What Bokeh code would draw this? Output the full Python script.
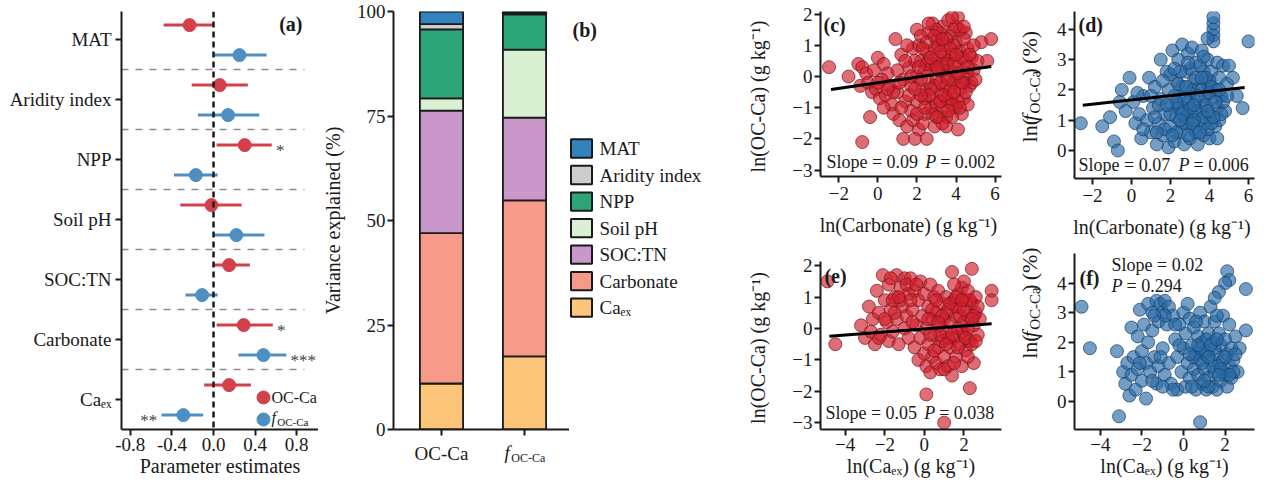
import math
from bokeh.plotting import figure
from bokeh.models import Range1d, Label, FixedTicker, ColumnDataSource, Span, PrintfTickFormatter
from bokeh.layouts import row, column
from bokeh.embed import file_html
from bokeh.resources import INLINE

FONT = "Liberation Serif"
INK = "#1a1a1a"
OFF = 4  # reference pixel -> layout pixel shift

# ---------------- panel (a): parameter estimates ----------------
predictors = ["MAT", "Aridity index", "NPP", "Soil pH", "SOC:TN", "Carbonate", "Caₑₓ"]
oc_est = [-0.23, 0.06, 0.30, -0.02, 0.15, 0.29, 0.15]
oc_lo = [-0.48, -0.21, 0.03, -0.32, 0.00, 0.03, -0.09]
oc_hi = [0.00, 0.33, 0.56, 0.27, 0.35, 0.57, 0.36]
oc_sig = ["", "", "*", "", "", "*", ""]
f_est = [0.25, 0.14, -0.17, 0.22, -0.11, 0.48, -0.29]
f_lo = [0.00, -0.15, -0.38, 0.00, -0.27, 0.24, -0.50]
f_hi = [0.51, 0.44, 0.04, 0.49, 0.04, 0.70, -0.10]
f_sig = ["", "", "", "", "", "***", "**"]
a_xticks = [-0.8, -0.4, 0.0, 0.4, 0.8]

# ---------------- panel (b): variance explained ----------------
responses = ["OC-Ca", "fOC-Ca"]
components = ["Caₑₓ", "Carbonate", "SOC:TN", "Soil pH", "NPP", "Aridity index", "MAT"]
comp_colors = ["#fdc57a", "#f89a8a", "#c997c9", "#d9f0d3", "#2ca678", "#cccccc", "#3182bd"]
var_oc = [11.0, 36.0, 29.3, 2.9, 16.5, 1.3, 3.0]
var_f = [17.5, 37.3, 19.8, 16.3, 8.4, 0.3, 0.4]
b_yticks = [0, 25, 50, 75, 100]

# ---------------- panel (c): ln(OC-Ca) vs ln(Carbonate) ----------------
c_x = [-2.5,-1.5,-1.0,-0.8,-0.6,-0.9,-0.5,-0.3,-0.4,-0.8, 0.0,0.3,0.5,0.2,-0.1,0.1,0.4,0.6,0.7,0.3,
       0.8,1.0,1.0,0.9,1.2,1.3,1.4,1.1,1.5,1.3, 1.7,1.6,1.8,1.7,2.0,2.1,2.2,2.0,2.3,2.0,
       2.4,2.1,2.5,1.9,2.6,2.5,2.7,2.6,2.8,2.7, 2.9,3.0,3.1,3.0,3.2,3.0,3.3,3.4,3.3,3.5,
       3.4,3.6,3.5,3.5,3.7,3.8,3.7,3.9,3.8,4.0, 4.1,4.1,4.0,4.2,4.1,4.3,4.2,4.4,4.3,4.5,
       4.6,4.5,4.6,4.7,4.6,4.8,4.9,5.1,5.3,5.8, 5.6,2.2,2.4,2.9,3.2,3.6,3.9,4.4,1.5,1.9,
       2.8,3.1,2.3,1.8,1.2,0.8,1.4,3.3,3.8,4.0, 3.4,2.6,2.9,4.8,4.4,3.9,3.6,3.0,2.5,4.2,
       3.3,2.2,1.7,1.1,0.5,0.0,-0.2,4.9,5.0,3.7, 3.2,2.7,4.1,3.5,2.4,2.0,1.6,
       2.3,2.8,3.1,3.5,3.9,4.3,2.6,3.2,3.8,4.2, 2.9,3.5,4.0,3.1,3.7,4.6,2.2,2.8,3.3,4.5,
       3.6,4.0,2.5,3.0,3.4,4.4,3.8,3.2,2.1,1.9, 2.6,4.3,3.9,3.3,2.4,4.7,4.1,2.7,3.6,3.0]
c_y = [0.3,0.0,0.4,0.3,0.1,-0.3,-0.2,-0.5,-1.3,-2.1, 0.6,0.4,0.1,-0.1,-0.4,-0.7,-0.6,-0.3,-0.9,-1.0,
       -1.2,-0.5,0.2,1.2,0.7,-0.1,-0.8,-1.4,-1.6,-2.0, -1.1,0.3,0.9,-0.3,1.5,1.0,0.5,0.0,-0.4,-0.8,
       -1.2,-1.7,-2.0,-2.0,1.4,0.8,0.2,-0.2,-0.7,-1.0, -1.6,1.2,0.6,-0.1,-0.5,-0.9,1.6,1.0,0.4,0.0,
       -0.3,-0.8,-1.3,-1.6,1.3,0.7,0.2,-0.2,-0.6,-1.0, -1.7,1.9,1.1,0.8,0.4,0.0,-0.4,-0.7,-1.2,1.4,
       0.9,0.5,0.1,-0.3,-0.9,0.6,0.2,0.5,1.1,1.2, 0.5,1.3,0.2,0.9,1.4,0.5,1.0,1.2,1.0,0.5,
       1.7,-1.3,-1.5,-1.4,-1.0,-0.5,0.5,-1.0,-1.3,0.0, 0.7,0.5,-0.3,-0.2,-0.2,1.5,1.8,1.5,1.1,1.5,
       0.2,-0.1,0.0,-0.2,-0.4,-0.2,0.2,1.0,-0.1,-0.4, -0.2,-0.4,-0.8,-0.7,-0.7,-1.2,-0.6,
       0.9,0.4,0.2,0.4,0.4,0.6,-0.6,-0.8,-0.9,-1.0, 1.3,1.2,1.6,1.0,0.9,0.3,-0.6,-1.2,-1.5,-0.5,
       -0.1,0.7,0.4,0.3,-0.6,1.6,1.9,0.8,0.3,-0.4, 1.7,-0.2,-0.5,1.2,-1.0,0.7,0.1,0.6,-1.1,-1.3]
c_fit_x = [-2.4, 5.8]
c_fit_y = [-0.42, 0.32]

# ---------------- panel (d): ln(fOC-Ca) vs ln(Carbonate) ----------------
d_x = [-2.6,-1.5,-1.1,-0.9,-0.7,-0.6,-0.5,-0.3,-0.1,0.1, 0.2,0.4,0.5,0.6,0.8,0.9,1.0,1.1,1.2,1.3,
       1.4,1.5,1.5,1.6,1.7,1.8,1.9,1.9,2.0,2.1, 2.1,2.2,2.3,2.3,2.4,2.5,2.5,2.6,2.7,2.7,
       2.8,2.8,2.9,3.0,3.0,3.1,3.1,3.2,3.2,3.3, 3.3,3.4,3.5,3.5,3.6,3.6,3.7,3.7,3.8,3.8,
       3.9,3.9,4.0,4.0,4.1,4.1,4.2,4.2,4.2,4.2, 4.2,4.3,4.3,4.4,4.4,4.5,4.5,4.6,4.7,4.8,
       4.9,5.0,5.2,5.4,5.7,6.0,3.9,2.0,1.4,2.4, 2.9,3.4,3.1,2.6,3.6,4.0,2.2,1.7,2.6,3.3,
       3.9,4.4,2.0,1.2,0.6,3.0,3.5,4.7,4.1,2.8, 3.7,2.3,1.0,0.3,1.6,3.2,2.5,4.6,4.9,3.8,
       2.9,2.4,
       2.7,3.0,3.4,3.8,4.2,2.3,2.6,3.1,3.5,4.0, 3.3,2.8,3.6,4.3,2.1,1.8,3.9,3.2,2.5,4.1,
       3.7,2.9,1.3,2.2,4.5]
d_y = [0.9,0.8,1.1,0.3,0.0,1.6,2.0,1.3,2.4,1.6, 0.9,1.2,0.4,1.8,1.0,2.4,0.6,1.4,2.1,0.2,
       0.9,3.0,1.7,0.5,1.2,2.6,0.1,2.0,0.8,1.5, 3.3,0.3,2.3,1.1,3.0,0.6,1.8,3.5,0.2,1.4,
       2.6,0.9,3.2,1.9,0.4,1.2,3.4,2.3,0.7,1.6, 2.9,0.2,1.0,2.1,3.3,1.4,0.5,2.6,1.8,0.9,
       2.2,3.0,1.2,0.4,1.7,2.6,3.8,4.0,4.2,4.4, 3.6,2.0,0.8,1.4,2.9,2.4,1.0,1.8,2.8,1.3,
       2.2,2.8,2.4,1.8,1.4,3.6,3.7,2.5,1.5,1.4, 1.6,1.3,2.0,2.1,2.0,2.3,1.8,0.7,0.9,0.6,
       0.7,0.4,1.2,1.1,0.7,2.7,2.8,1.6,0.9,1.1, 1.1,0.6,1.8,1.9,2.3,1.0,2.6,1.2,1.8,2.4,
       0.5,2.2,
       1.7,1.4,1.8,1.5,1.1,1.6,1.2,0.9,0.6,1.9, 2.4,2.1,2.4,1.6,0.5,1.5,1.3,1.5,1.0,2.1,
       3.1,2.9,0.6,2.7,2.0]
d_fit_x = [-2.5, 5.8]
d_fit_y = [1.49, 2.08]

# ---------------- panel (e): ln(OC-Ca) vs ln(Ca_ex) ----------------
e_x = [-4.9,-4.5,-3.2,-3.0,-2.8,-2.7,-2.6,-2.5,-2.4,-2.3, -2.2,-2.1,-2.0,-1.9,-1.8,-1.8,-1.7,-1.6,-1.5,-1.4,
       -1.4,-1.3,-1.2,-1.1,-1.0,-1.0,-0.9,-0.8,-0.8,-0.7, -0.6,-0.5,-0.5,-0.4,-0.3,-0.3,-0.2,-0.2,-0.1,0.0,
       0.0,0.1,0.1,0.2,0.2,0.3,0.3,0.4,0.4,0.5, 0.5,0.6,0.6,0.7,0.7,0.8,0.8,0.9,0.9,1.0,
       1.0,1.1,1.1,1.2,1.2,1.3,1.3,1.4,1.4,1.5, 1.5,1.6,1.6,1.7,1.7,1.8,1.8,1.9,1.9,2.0,
       2.0,2.1,2.1,2.2,2.2,2.3,2.3,2.4,2.4,2.5, 2.5,2.6,2.7,2.8,3.4,3.4,0.1,1.0,2.0,1.5,
       2.6,0.4,-0.6,-1.6,-2.3,1.2,1.9,0.6,0.2,-0.9, -1.7,1.8,2.2,2.4,1.6,1.1,0.8,2.7,
       -1.2,-0.4,-1.5,-2.0,0.9,1.3,1.6,2.0,2.3,2.5, 1.4,1.7,2.1,0.7,1.1,0.3,1.9,2.6,1.0,0.5,
       2.2,1.5,-0.7,-1.3,2.4]
e_y = [1.5,-0.5,0.1,-0.3,0.7,-0.1,0.3,-0.5,1.2,0.5, -0.2,1.7,0.9,0.2,-0.4,1.4,0.6,-0.1,1.0,1.7,
       0.3,-0.5,1.3,0.7,1.6,0.0,0.4,1.1,-0.3,1.6, 0.6,-0.6,1.2,0.1,-1.0,0.9,-0.3,1.5,0.4,-0.8,
       1.1,-1.2,0.0,0.7,-0.5,1.4,-1.4,0.3,-0.9,1.0, -0.2,-1.1,0.5,-0.6,1.2,0.1,-1.3,0.8,-0.4,-0.9,
       0.3,1.0,-0.1,-1.2,0.6,-0.6,0.2,1.8,-1.5,0.9, -0.3,0.4,-0.9,1.1,0.0,-0.5,0.7,1.3,-1.2,0.2,
       -0.2,0.9,-0.7,1.2,0.4,-0.4,-1.9,1.9,0.8,0.1, -1.1,0.5,-0.2,0.3,1.2,0.9,-2.1,-3.0,1.5,1.4,
       1.0,0.6,0.2,0.9,-0.3,-0.3,-0.1,0.9,0.3,1.4, 1.6,0.4,0.0,-0.5,0.7,0.5,-0.2,0.7,
       0.9,1.4,0.5,0.3,0.4,0.8,1.0,0.6,0.9,0.4, -0.2,-0.6,-0.3,0.2,-0.5,-0.2,0.9,-0.4,-1.3,-0.7,
       -0.9,-1.1,0.9,1.0,0.3]
e_fit_x = [-4.8, 3.4]
e_fit_y = [-0.25, 0.15]

# ---------------- panel (f): ln(fOC-Ca) vs ln(Ca_ex) ----------------
f_x = [-4.9,-4.5,-3.2,-3.1,-2.9,-2.8,-2.7,-2.6,-2.5,-2.5, -2.4,-2.3,-2.2,-2.2,-2.1,-2.0,-2.0,-1.9,-1.8,-1.8,
       -1.7,-1.7,-1.6,-1.5,-1.5,-1.4,-1.3,-1.3,-1.2,-1.2, -1.1,-1.0,-1.0,-0.9,-0.9,-0.8,-0.7,-0.7,-0.6,-0.5,
       -0.4,-0.3,-0.3,-0.2,-0.1,0.0,0.0,0.1,0.1,0.2, 0.3,0.3,0.4,0.5,0.5,0.6,0.6,0.7,0.7,0.8,
       0.8,0.9,0.9,1.0,1.0,1.1,1.1,1.2,1.2,1.3, 1.3,1.4,1.4,1.5,1.5,1.6,1.6,1.7,1.7,1.8,
       1.8,1.9,1.9,2.0,2.0,2.1,2.1,2.2,2.2,2.3, 2.3,2.4,2.5,2.6,2.7,3.0,3.0,2.1,2.2,2.0,
       1.7,1.5,0.8,-0.5,0.4,1.2,-1.0,-0.2,0.6,1.6, 0.2,-0.4,1.0,1.4,1.9,0.8,2.4,
       0.5,1.1,1.5,1.8,2.2,0.9,1.3,1.7,2.0,0.3, 0.7,1.2,1.6,-1.5,-2.1,-1.1,-0.9,-1.4,2.5,1.0]
f_y = [3.2,1.8,1.7,-0.5,1.0,0.6,1.3,0.2,2.5,0.9, 1.5,0.4,2.2,1.1,3.1,1.7,0.7,2.6,1.3,0.1,
       3.3,2.0,1.0,3.0,2.4,1.5,3.4,0.6,2.7,1.2, 3.3,3.0,1.8,0.9,3.4,2.6,1.3,3.2,0.6,2.9,
       2.1,0.4,1.5,2.6,1.0,3.0,1.8,0.5,2.3,1.3, 2.8,0.8,1.9,1.1,2.5,0.4,1.6,2.2,0.9,3.0,
       1.4,0.6,2.0,1.1,2.7,0.4,1.7,2.3,0.8,1.4, 3.2,0.5,2.0,1.0,2.7,1.6,0.4,2.3,1.2,0.7,
       1.9,2.9,1.4,0.9,2.1,1.6,0.5,1.2,2.6,1.8, 0.8,1.4,2.2,1.0,1.8,3.8,2.4,4.4,4.1,4.0,
       3.7,3.5,-0.7,0.4,0.5,0.5,0.5,1.9,2.7,2.9, 3.3,2.6,1.6,1.2,1.0,1.8,1.0,
       1.5,2.1,1.8,1.1,0.9,1.3,1.9,0.9,1.5,1.6, 1.9,1.5,2.1,0.7,1.3,1.5,2.9,2.9,1.6,0.7]

# ---------------- helpers ----------------
GEOM = {}


def mkfig(ox, oy, w, h, left, right, top, bottom, xr, yr, axes=True):
    kw = {}
    if not axes:
        kw = dict(x_axis_type=None, y_axis_type=None)
    p = figure(width=w, height=h, x_range=Range1d(*xr), y_range=Range1d(*yr),
               output_backend="svg", toolbar_location=None,
               min_border_left=left, min_border_right=right,
               min_border_top=top, min_border_bottom=bottom, **kw)
    p.xgrid.visible = False
    p.ygrid.visible = False
    p.outline_line_color = None
    p.background_fill_color = "white"
    p.border_fill_color = "white"
    for ax in p.axis:
        ax.axis_line_color = INK
        ax.axis_line_width = 2
        ax.major_tick_line_color = INK
        ax.major_tick_line_width = 2
        ax.major_tick_out = 6
        ax.major_tick_in = 0
        ax.minor_tick_line_color = None
        ax.major_label_text_font = FONT
        ax.major_label_text_font_size = "19px"
        ax.major_label_text_color = INK
        ax.major_label_standoff = 2
        ax.axis_label_text_font = FONT
        ax.axis_label_text_font_size = "20px"
        ax.axis_label_text_font_style = "normal"
        ax.axis_label_text_color = INK
        ax.axis_label_standoff = 1
    GEOM[id(p)] = dict(fl=ox + left, ft=oy + top, fw=w - left - right, fh=h - top - bottom,
                       x0=xr[0], x1=xr[1], y0=yr[0], y1=yr[1])
    return p


def to_data(p, rx, ry):
    # reference-picture pixel -> data coordinates of figure p
    g = GEOM[id(p)]
    lx, ly = rx - OFF, ry - OFF
    xd = g["x0"] + (lx - g["fl"]) / g["fw"] * (g["x1"] - g["x0"])
    yd = g["y1"] - (ly - g["ft"]) / g["fh"] * (g["y1"] - g["y0"])
    return xd, yd


def text(p, rx, ry, s, size=19, style="normal", align="left", baseline="middle",
         angle=0.0, color=INK):
    xd, yd = to_data(p, rx, ry)
    p.add_layout(Label(x=xd, y=yd, text=s, text_font=FONT, text_font_size=f"{size}px",
                       text_font_style=style, text_align=align, text_baseline=baseline,
                       angle=angle, text_color=color))


def f_sub(p, rx, ry, size, subsize):
    text(p, rx, ry, "f", size=size, style="italic")
    text(p, rx + 0.36 * size, ry + 0.3 * size, "OC-Ca", size=subsize)


def f_ylabel(p, rx, ry_bottom):
    big, small = 22, 15
    y = ry_bottom
    parts = [("ln(", big, "normal", 0, 1.111), ("f", big, "italic", 0, 0.40),
             ("OC-Ca", small, "normal", 5, 2.9), (")", big, "normal", 0, 0.6),
             ("(%)", big, "normal", 0, 1.5)]
    for s, sz, st, off, em in parts:
        text(p, rx + off, y, s, size=sz, style=st, angle=math.pi / 2)
        y -= em * sz


def slope_text(p, rx, ry, slope, pval):
    text(p, rx, ry, f"Slope = {slope}", size=18)
    text(p, rx + 100, ry, "P", size=18, style="italic")
    text(p, rx + 115, ry, f"= {pval}", size=18)


# ---------------- panel (a) ----------------
A_X = (-0.885, 1.0096)
pa = mkfig(0, 0, 318, 479, 121, 0, 11, 50, A_X, (0.5, 7.467))
ypos = list(range(len(predictors), 0, -1))
RED_A, BLUE_A = "#d3404a", "#4d8fc3"
oc_y = [y + 0.24 for y in ypos]
f_y_pos = [y - 0.26 for y in ypos]
sep_end, _ = to_data(pa, 308, 0)
sep_y = [yv + 0.5 for yv in ypos[1:]]
pa.segment(x0=[A_X[0]] * len(sep_y), y0=sep_y, x1=[sep_end] * len(sep_y), y1=sep_y,
           line_color="#8c8c8c", line_width=1.5, line_dash="7 7")
pa.add_layout(Span(location=0, dimension="height", line_color=INK, line_width=2.5, line_dash="6 4"))
pa.segment(x0=oc_lo, y0=oc_y, x1=oc_hi, y1=oc_y, line_color=RED_A, line_width=3)
pa.scatter(oc_est, oc_y, size=13, color=RED_A)
pa.segment(x0=f_lo, y0=f_y_pos, x1=f_hi, y1=f_y_pos, line_color=BLUE_A, line_width=3)
pa.scatter(f_est, f_y_pos, size=13, color=BLUE_A)
for i in range(len(predictors)):
    for sig, est, lo, hi, yy in ((oc_sig[i], oc_est[i], oc_lo[i], oc_hi[i], oc_y[i]),
                                 (f_sig[i], f_est[i], f_lo[i], f_hi[i], f_y_pos[i])):
        if sig:
            right = est >= 0
            pa.add_layout(Label(x=hi + 0.04 if right else lo - 0.04, y=yy, text=sig,
                                text_font=FONT, text_font_size="17px",
                                text_align="left" if right else "right", text_baseline="middle",
                                y_offset=-5, text_color="#444444"))
pa.yaxis.ticker = FixedTicker(ticks=ypos)
pa.yaxis.major_label_overrides = {y: n for y, n in zip(ypos, predictors)}
pa.yaxis.major_label_standoff = 4
pa.xaxis.ticker = FixedTicker(ticks=a_xticks)
pa.xaxis.formatter = PrintfTickFormatter(format="%.1f")
pa.xaxis.axis_label = "Parameter estimates"
lx1, ly1 = to_data(pa, 267, 401)
lx2, ly2 = to_data(pa, 267, 423)
pa.scatter([lx1], [ly1], size=13, color=RED_A)
pa.scatter([lx2], [ly2], size=13, color=BLUE_A)
text(pa, 275, 401, "OC-Ca", size=16)
f_sub(pa, 275, 421, 16, 11)
text(pa, 306, 27, "(a)", size=20, style="bold", align="right")

# ---------------- panel (b) ----------------
B_X = (0.4217, 2.542)
pb = mkfig(318, 0, 251, 441, 75, 0, 11, 12, B_X, (0, 100))
bsrc = {"x": [1, 2]}
for k, name in enumerate(components):
    bsrc[f"c{k}"] = [var_oc[k], var_f[k]]
pb.vbar_stack([f"c{k}" for k in range(len(components))], x="x", width=0.52,
              color=comp_colors, line_color=INK, line_width=1.8, source=ColumnDataSource(bsrc))
pb.yaxis.ticker = FixedTicker(ticks=b_yticks)
pb.xaxis.ticker = FixedTicker(ticks=[1, 2])
pb.xaxis.major_label_overrides = {1: "", 2: ""}
pb.xaxis.major_label_text_font_size = "1px"
pb.xaxis.major_label_standoff = 0
pb.yaxis.axis_label = "Variance explained (%)"
pb.yaxis.axis_label_standoff = 10
# category labels of (b) in a strip under its axis
pbl = mkfig(318, 441, 251, 38, 75, 0, 0, 0, B_X, (0, 38), axes=False)
text(pbl, 445, 457, responses[0], size=19, align="center")
f_sub(pbl, 508, 456, 19, 12)

# ---------------- legend of (b) ----------------
pl = mkfig(569, 0, 175, 479, 0, 0, 0, 0, (0, 175), (0, 479), axes=False)
leg_order = list(reversed(range(len(components))))
sw_x, sw_y = [], []
for i, k in enumerate(leg_order):
    xd, yd = to_data(pl, 585, 161 + i * 30.4)
    sw_x.append(xd)
    sw_y.append(yd)
    text(pl, 603, 161 + i * 30.4, components[k], size=19)
pl.rect(sw_x, sw_y, width=21, height=21, fill_color=[comp_colors[k] for k in leg_order],
        line_color=INK, line_width=2)
text(pl, 576, 25, "(b)", size=20, style="bold")

# ---------------- scatter panels ----------------
RED_F, RED_L = "#cf1f2b", "#7a1219"
BLUE_F, BLUE_L = "#2a6aa6", "#173f66"


def scatter_panel(p, xs, ys, fill, line):
    p.scatter(xs, ys, size=13, fill_color=fill, fill_alpha=0.65, line_color=line, line_alpha=0.7, line_width=1)


pc = mkfig(744, 0, 270, 245, 74, 13, 11, 69, (-2.937, 6.329), (-3.205, 2.083))
scatter_panel(pc, c_x, c_y, RED_F, RED_L)
pc.line(c_fit_x, c_fit_y, line_color="black", line_width=3)
pc.xaxis.ticker = FixedTicker(ticks=[-2, 0, 2, 4, 6])
pc.yaxis.ticker = FixedTicker(ticks=[-3, -2, -1, 0, 1, 2])
pc.xaxis.axis_label = "ln(Carbonate)  (g kg⁻¹)"
pc.yaxis.axis_label = "ln(OC-Ca)  (g kg⁻¹)"
pc.xaxis.major_label_standoff = 4
pc.xaxis.axis_label_standoff = 11
pc.yaxis.axis_label_standoff = 20
text(pc, 825, 28, "(c)", size=20, style="bold")
slope_text(pc, 828, 165, "0.09", "0.002")

pe = mkfig(744, 245, 270, 234, 74, 13, 16, 50, (-5.25, 3.9), (-3.217, 2.134))
scatter_panel(pe, e_x, e_y, RED_F, RED_L)
pe.line(e_fit_x, e_fit_y, line_color="black", line_width=3)
pe.xaxis.ticker = FixedTicker(ticks=[-4, -2, 0, 2])
pe.yaxis.ticker = FixedTicker(ticks=[-3, -2, -1, 0, 1, 2])
pe.xaxis.axis_label = "ln(Caₑₓ) (g kg⁻¹)"
pe.yaxis.axis_label = "ln(OC-Ca)  (g kg⁻¹)"
pe.yaxis.axis_label_standoff = 20
text(pe, 826, 279, "(e)", size=20, style="bold")
slope_text(pe, 827, 416, "0.05", "0.038")

# strip holding the rotated y labels of (d) and (f)
ps = mkfig(1014, 0, 35, 479, 0, 0, 0, 0, (0, 35), (0, 479), axes=False)
f_ylabel(ps, 1033, 154)
f_ylabel(ps, 1033, 402)

pd_ = mkfig(1049, 0, 210, 245, 25, 5, 11, 67, (-2.923, 6.308), (-0.924, 4.587))
scatter_panel(pd_, d_x, d_y, BLUE_F, BLUE_L)
pd_.line(d_fit_x, d_fit_y, line_color="black", line_width=3)
pd_.xaxis.ticker = FixedTicker(ticks=[-2, 0, 2, 4, 6])
pd_.yaxis.ticker = FixedTicker(ticks=[0, 1, 2, 3, 4])
pd_.xaxis.axis_label = "ln(Carbonate)  (g kg⁻¹)"
pd_.xaxis.major_label_standoff = 4
pd_.xaxis.axis_label_standoff = 11
text(pd_, 1082, 28, "(d)", size=20, style="bold")
slope_text(pd_, 1082, 168, "0.07", "0.006")

pf = mkfig(1049, 245, 210, 234, 25, 5, 8, 50, (-5.24, 3.413), (-0.946, 5.0))
scatter_panel(pf, f_x, f_y, BLUE_F, BLUE_L)
pf.xaxis.ticker = FixedTicker(ticks=[-4, -2, 0, 2])
pf.yaxis.ticker = FixedTicker(ticks=[0, 1, 2, 3, 4])
pf.xaxis.axis_label = "ln(Caₑₓ) (g kg⁻¹)"
text(pf, 1083, 281, "(f)", size=20, style="bold")
text(pf, 1115, 268, "Slope = 0.02", size=18)
text(pf, 1115, 289, "P", size=18, style="italic")
text(pf, 1130, 289, "= 0.294", size=18)

layout = row(pa, column(pb, pbl), pl, column(pc, pe), ps, column(pd_, pf))
open("out.html", "w").write(file_html(layout, INLINE))
